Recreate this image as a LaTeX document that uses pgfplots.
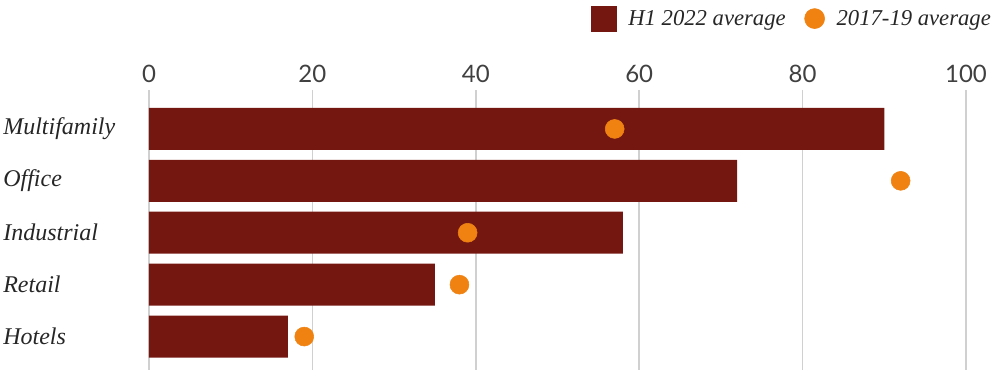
\documentclass[border=0pt]{standalone}
\usepackage{fontspec}
\setmainfont{Liberation Serif}
\newfontfamily\tickfont{Lato}
\usepackage{pgfplots}
\pgfplotsset{compat=1.18}
\definecolor{barred}{HTML}{741711}
\definecolor{dotor}{HTML}{F08212}
\definecolor{gridg}{HTML}{D0D0D0}
\begin{document}
\begin{tikzpicture}
\begin{axis}[name=ax,
  scale only axis, width=612.75pt, height=210pt,
  xmin=0, xmax=100, ymin=-0.75, ymax=4.644, y dir=reverse,
  axis line style={draw=none},
  major tick length=0pt,
  xtick={0,20,40,60,80,100},
  xticklabel pos=upper,
  xmajorgrids, grid style={color=gridg, line width=1.3pt},
  /pgf/number format/assume math mode=true,
  xticklabel style={font=\tickfont\fontsize{18}{20}\selectfont, text=black!75, yshift=2pt},
  ytick={0,1,2,3,4},
  yticklabels={Multifamily,Office,Industrial,Retail,Hotels},
  yticklabel style={font=\itshape\fontsize{18}{20}\selectfont, text=black!85, anchor=west, inner sep=0pt, xshift=-109.5pt},
  legend columns=2,
  legend style={draw=none, fill=none, at={(1.034,1.255)}, anchor=east,
    font=\itshape\fontsize{17}{20}\selectfont, text=black!85,
    /tikz/every even column/.append style={column sep=12pt},
    inner sep=0pt, cells={inner sep=2pt}},
]
\addplot[xbar, fill=barred, draw=none, bar width=31.5pt,
  legend image code/.code={\fill[barred] (0pt,-9.75pt) rectangle (19.5pt,9.75pt); \path[draw=none,fill=none] (0pt,0pt) -- (26pt,0pt);}]
  coordinates {(90,0) (72,1) (58,2) (35,3) (17,4)};
\addlegendentry{H1 2022 average}
\addplot[only marks, mark=*, mark size=7.1pt, color=dotor,
  legend image code/.code={\fill[dotor] (7.5pt,0pt) circle (7.5pt); \path[draw=none,fill=none] (0pt,0pt) -- (22pt,0pt);}]
  coordinates {(57,0) (92,1) (39,2) (38,3) (19,4)};
\addlegendentry{2017-19 average}
\end{axis}
\pgfresetboundingbox
\useasboundingbox ([xshift=-111.75pt]ax.south west) rectangle ([xshift=638.25pt, yshift=277.5pt]ax.south west);
\end{tikzpicture}
\end{document}
